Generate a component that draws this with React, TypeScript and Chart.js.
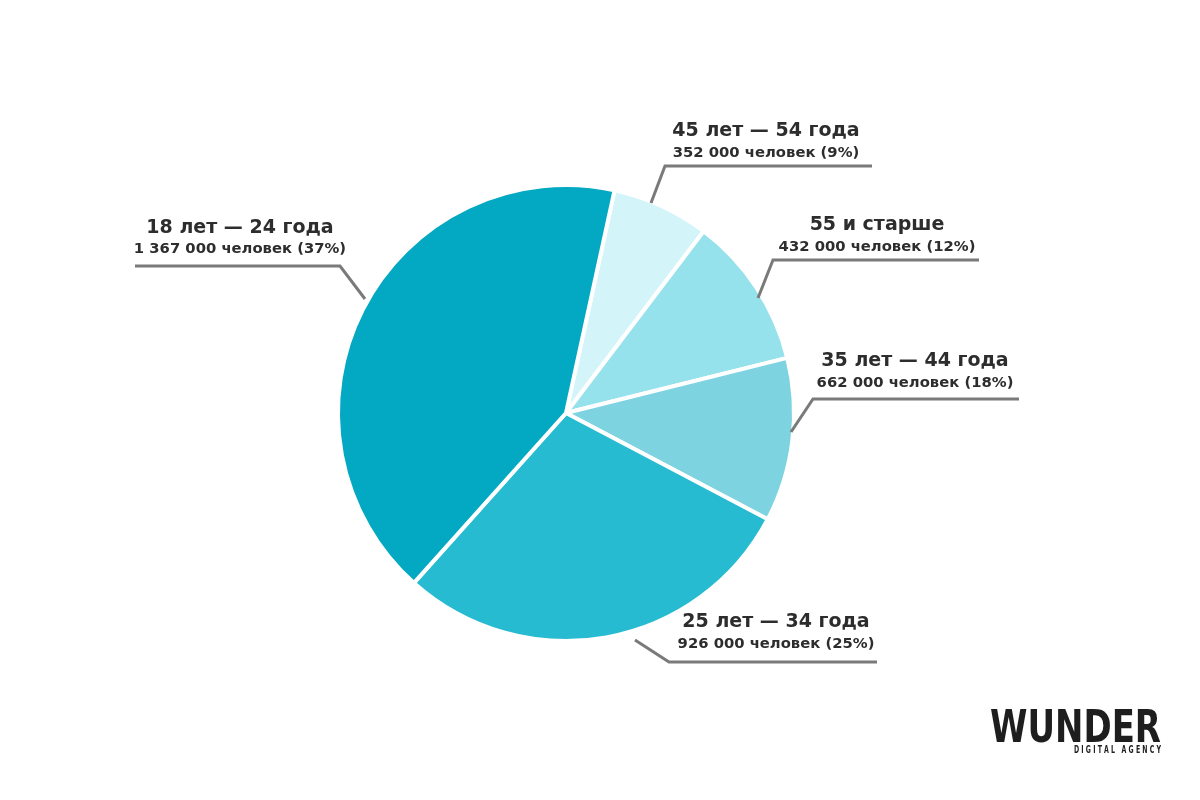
import React, { useEffect, useRef } from "react";
import { Chart, registerables } from "chart.js";

Chart.register(...registerables);

// Data (slice shares as drawn in the reference; order clockwise from top)
const categories = ["45 лет — 54 года", "55 и старше", "35 лет — 44 года", "25 лет — 34 года", "18 лет — 24 года"];
const sliceValues = [6.9, 10.8, 11.6, 28.9, 41.8];
const subLabels = [
  "352 000 человек (9%)",
  "432 000 человек (12%)",
  "662 000 человек (18%)",
  "926 000 человек (25%)",
  "1 367 000 человек (37%)",
];
const colors = ["#D3F5FA", "#95E1EC", "#7DD3E0", "#27BBD1", "#03A8C2"];

// Label layout (text centre, baselines, leader line: tip -> elbow -> end)
const labelLayout = [
  { cx: 766, ty: 136, sy: 157, tip: [651, 203], elbow: [665, 166], end: [872, 166] },
  { cx: 877, ty: 230, sy: 251, tip: [758, 298], elbow: [773, 260], end: [979, 260] },
  { cx: 915, ty: 366, sy: 387, tip: [791, 432], elbow: [813, 399], end: [1019, 399] },
  { cx: 776, ty: 627, sy: 648, tip: [635, 640], elbow: [669, 662], end: [877, 662] },
  { cx: 240, ty: 233, sy: 253, tip: [365, 299], elbow: [340, 266], end: [135, 266] },
];

const FONT = "'DejaVu Sans', sans-serif";

const labelPlugin = {
  id: "labelPlugin",
  afterDraw(chart: any) {
    const ctx = chart.ctx as CanvasRenderingContext2D;
    ctx.save();
    labelLayout.forEach((l, i) => {
      ctx.strokeStyle = "#7a7a7a";
      ctx.lineWidth = 3;
      ctx.lineJoin = "miter";
      ctx.beginPath();
      ctx.moveTo(l.tip[0], l.tip[1]);
      ctx.lineTo(l.elbow[0], l.elbow[1]);
      ctx.lineTo(l.end[0], l.end[1]);
      ctx.stroke();

      ctx.fillStyle = "#2d2d2d";
      ctx.textAlign = "center";
      ctx.textBaseline = "alphabetic";
      ctx.font = `bold 19px ${FONT}`;
      ctx.fillText(categories[i], l.cx, l.ty);
      ctx.font = `bold 14.8px ${FONT}`;
      ctx.fillText(subLabels[i], l.cx, l.sy);
    });

    // Logo
    ctx.fillStyle = "#1e1e1e";
    ctx.textAlign = "left";
    ctx.font = `900 44px 'DejaVu Sans Condensed', 'DejaVu Sans', sans-serif`;
    ctx.fillText("WUNDER", 990, 742, 171);
    ctx.font = `bold 10px 'DejaVu Sans Condensed', 'DejaVu Sans', sans-serif`;
    ctx.fillText("D I G I T A L   A G E N C Y", 1074, 753, 87);
    ctx.restore();
  },
};

export default function App() {
  const ref = useRef<HTMLCanvasElement>(null);
  useEffect(() => {
    if (!ref.current) return;
    const chart = new Chart(ref.current, {
      type: "pie",
      data: {
        labels: categories,
        datasets: [
          {
            data: sliceValues,
            backgroundColor: colors,
            borderColor: "#ffffff",
            borderWidth: 4,
            hoverOffset: 0,
          },
        ],
      },
      options: {
        responsive: false,
        animation: false,
        rotation: 12.3,
        radius: 228,
        layout: { padding: { left: 107, right: 175, top: 26, bottom: 0 } },
        plugins: {
          legend: { display: false },
          tooltip: { enabled: false },
        },
      },
      plugins: [labelPlugin],
    });
    return () => chart.destroy();
  }, []);
  return (
    <div style={{ position: "fixed", left: 0, top: 0, width: 1200, height: 800, background: "#fff" }}>
      <canvas ref={ref} width={1200} height={800} />
    </div>
  );
}
